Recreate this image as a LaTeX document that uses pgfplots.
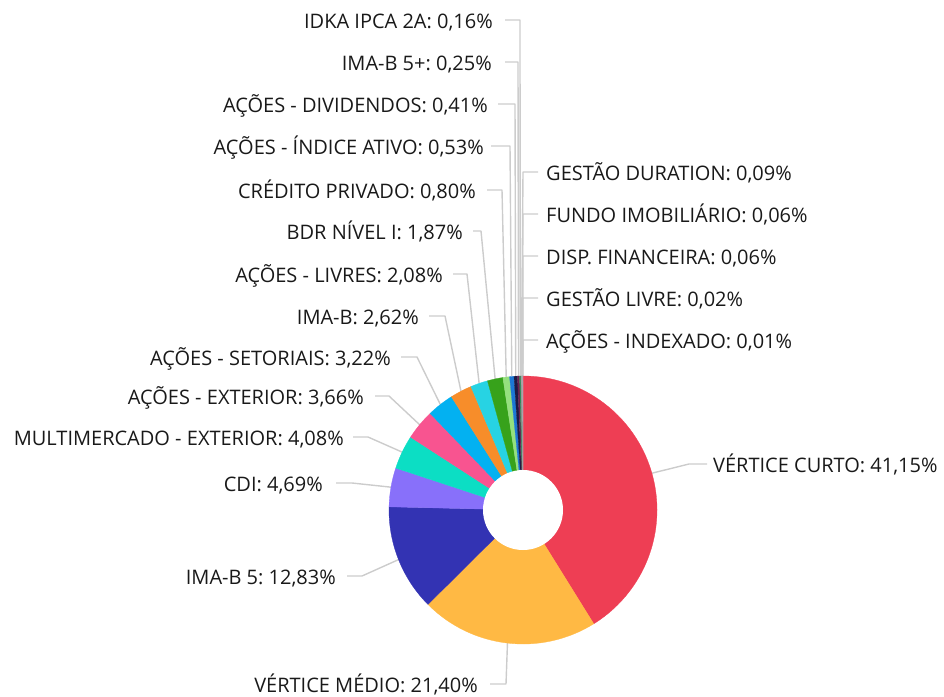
\documentclass[border=0pt]{standalone}
\usepackage{pgfplots}
\usepackage{pgfplotstable}
\pgfplotsset{compat=1.18}
\usepackage{fontspec}
\setmainfont{Open Sans}
\frenchspacing
\definecolor{c1}{HTML}{EE3E54}
\definecolor{c2}{HTML}{FFB944}
\definecolor{c3}{HTML}{3333B3}
\definecolor{c4}{HTML}{8870FA}
\definecolor{c5}{HTML}{0CDEC4}
\definecolor{c6}{HTML}{F85490}
\definecolor{c7}{HTML}{03B1F1}
\definecolor{c8}{HTML}{F78D2A}
\definecolor{c9}{HTML}{27D3E3}
\definecolor{c10}{HTML}{37A21B}
\definecolor{c11}{HTML}{95E07F}
\definecolor{c12}{HTML}{1C78D4}
\definecolor{c13}{HTML}{1B1B44}
\definecolor{c14}{HTML}{6A1F4F}
\definecolor{c15}{HTML}{2E8B57}
\definecolor{c16}{HTML}{888888}
\definecolor{c17}{HTML}{B0B0B0}
\definecolor{c18}{HTML}{607080}
\definecolor{c19}{HTML}{A0A0A0}
\definecolor{c20}{HTML}{D0D0D0}
\definecolor{linecol}{HTML}{CCCCCC}

\pgfplotstableread[col sep=comma]{
val,col,name,anc,tx,sx,kx,ly
41.15,c1,VÉRTICE CURTO,west,713,707,689,464
21.40,c2,VÉRTICE MÉDIO,east,478,490,506,684
12.83,c3,IMA-B 5,east,336,347,362,576
4.69,c4,CDI,east,323,336,352,483
4.08,c5,MULTIMERCADO - EXTERIOR,east,344,353,368,437
3.66,c6,AÇÕES - EXTERIOR,east,364,375,389,396
3.22,c7,AÇÕES - SETORIAIS,east,391,401,417,357
2.62,c8,IMA-B,east,419,429,445,316
2.08,c9,AÇÕES - LIVRES,east,443,453,467,274
1.87,c10,BDR NÍVEL I,east,463,473,481,231
0.80,c11,CRÉDITO PRIVADO,east,476,487,502,190
0.53,c12,AÇÕES - ÍNDICE ATIVO,east,484,491,510,146
0.41,c13,AÇÕES - DIVIDENDOS,east,488,498,515,104
0.25,c14,IMA-B 5+,east,492,505,518,62
0.16,c15,IDKA IPCA 2A,east,493,505,520,20
0.09,c16,GESTÃO DURATION,west,546,538,523,172
0.06,c17,FUNDO IMOBILIÁRIO,west,546,538,523,214
0.06,c18,DISP. FINANCEIRA,west,546,538,523,256
0.02,c19,GESTÃO LIVRE,west,546,538,523,298
0.01,c20,AÇÕES - INDEXADO,west,546,538,523,340
}\slices

\begin{document}
\begin{tikzpicture}
\begin{axis}[x=1pt,y=1pt,xmin=0,xmax=944,ymin=0,ymax=696,y dir=reverse,
  hide axis,clip=false,/pgf/number format/assume math mode=true]
\pgfplotsextra{%
  \coordinate (BL) at (axis cs:0,696);
  \coordinate (TR) at (axis cs:944,0);
  \gdef\cum{0}%
  \foreach \i in {0,...,19}{%
    \pgfplotstablegetelem{\i}{val}\of\slices \edef\v{\pgfplotsretval}%
    \pgfplotstablegetelem{\i}{name}\of\slices \edef\nm{\pgfplotsretval}%
    \pgfplotstablegetelem{\i}{anc}\of\slices \edef\anc{\pgfplotsretval}%
    \pgfplotstablegetelem{\i}{tx}\of\slices \edef\tx{\pgfplotsretval}%
    \pgfplotstablegetelem{\i}{sx}\of\slices \edef\sx{\pgfplotsretval}%
    \pgfplotstablegetelem{\i}{kx}\of\slices \edef\kx{\pgfplotsretval}%
    \pgfplotstablegetelem{\i}{ly}\of\slices \edef\ly{\pgfplotsretval}%
    \pgfmathsetmacro\m{90-3.6*(\cum+\v/2)}%
    \pgfmathsetmacro\by{\ly+8.5}%
    \draw[linecol,line width=1.4pt,line join=round] (axis cs:\sx,\ly) -- (axis cs:\kx,\ly) -- ([shift={(\m:134pt)}]axis cs:523,510);
    \node[anchor=base \anc,inner sep=0pt,text=black!90,font=\fontsize{20}{24}\selectfont] at (axis cs:\tx,\by)
      {\nm:\ \pgfmathprintnumber[fixed,precision=2,zerofill,use comma]{\v}\%};
    \pgfmathsetmacro\n{\cum+\v}\xdef\cum{\n}%
  }%
  \gdef\cum{0}%
  \foreach \i in {0,...,19}{%
    \pgfplotstablegetelem{\i}{val}\of\slices \edef\v{\pgfplotsretval}%
    \pgfplotstablegetelem{\i}{col}\of\slices \edef\col{\pgfplotsretval}%
    \pgfmathsetmacro\a{90-3.6*\cum}%
    \pgfmathsetmacro\b{90-3.6*(\cum+\v)}%
    \fill[\col,draw=\col,line width=0.3pt] (axis cs:523,510) -- ++(\a:134pt) arc[start angle=\a,end angle=\b,radius=134pt] -- cycle;
    \pgfmathsetmacro\n{\cum+\v}\xdef\cum{\n}%
  }%
  \fill[white] (axis cs:523,510) circle[radius=40pt];
}
\end{axis}
\pgfresetboundingbox
\path[use as bounding box] (BL) rectangle (TR);
\end{tikzpicture}
\end{document}
